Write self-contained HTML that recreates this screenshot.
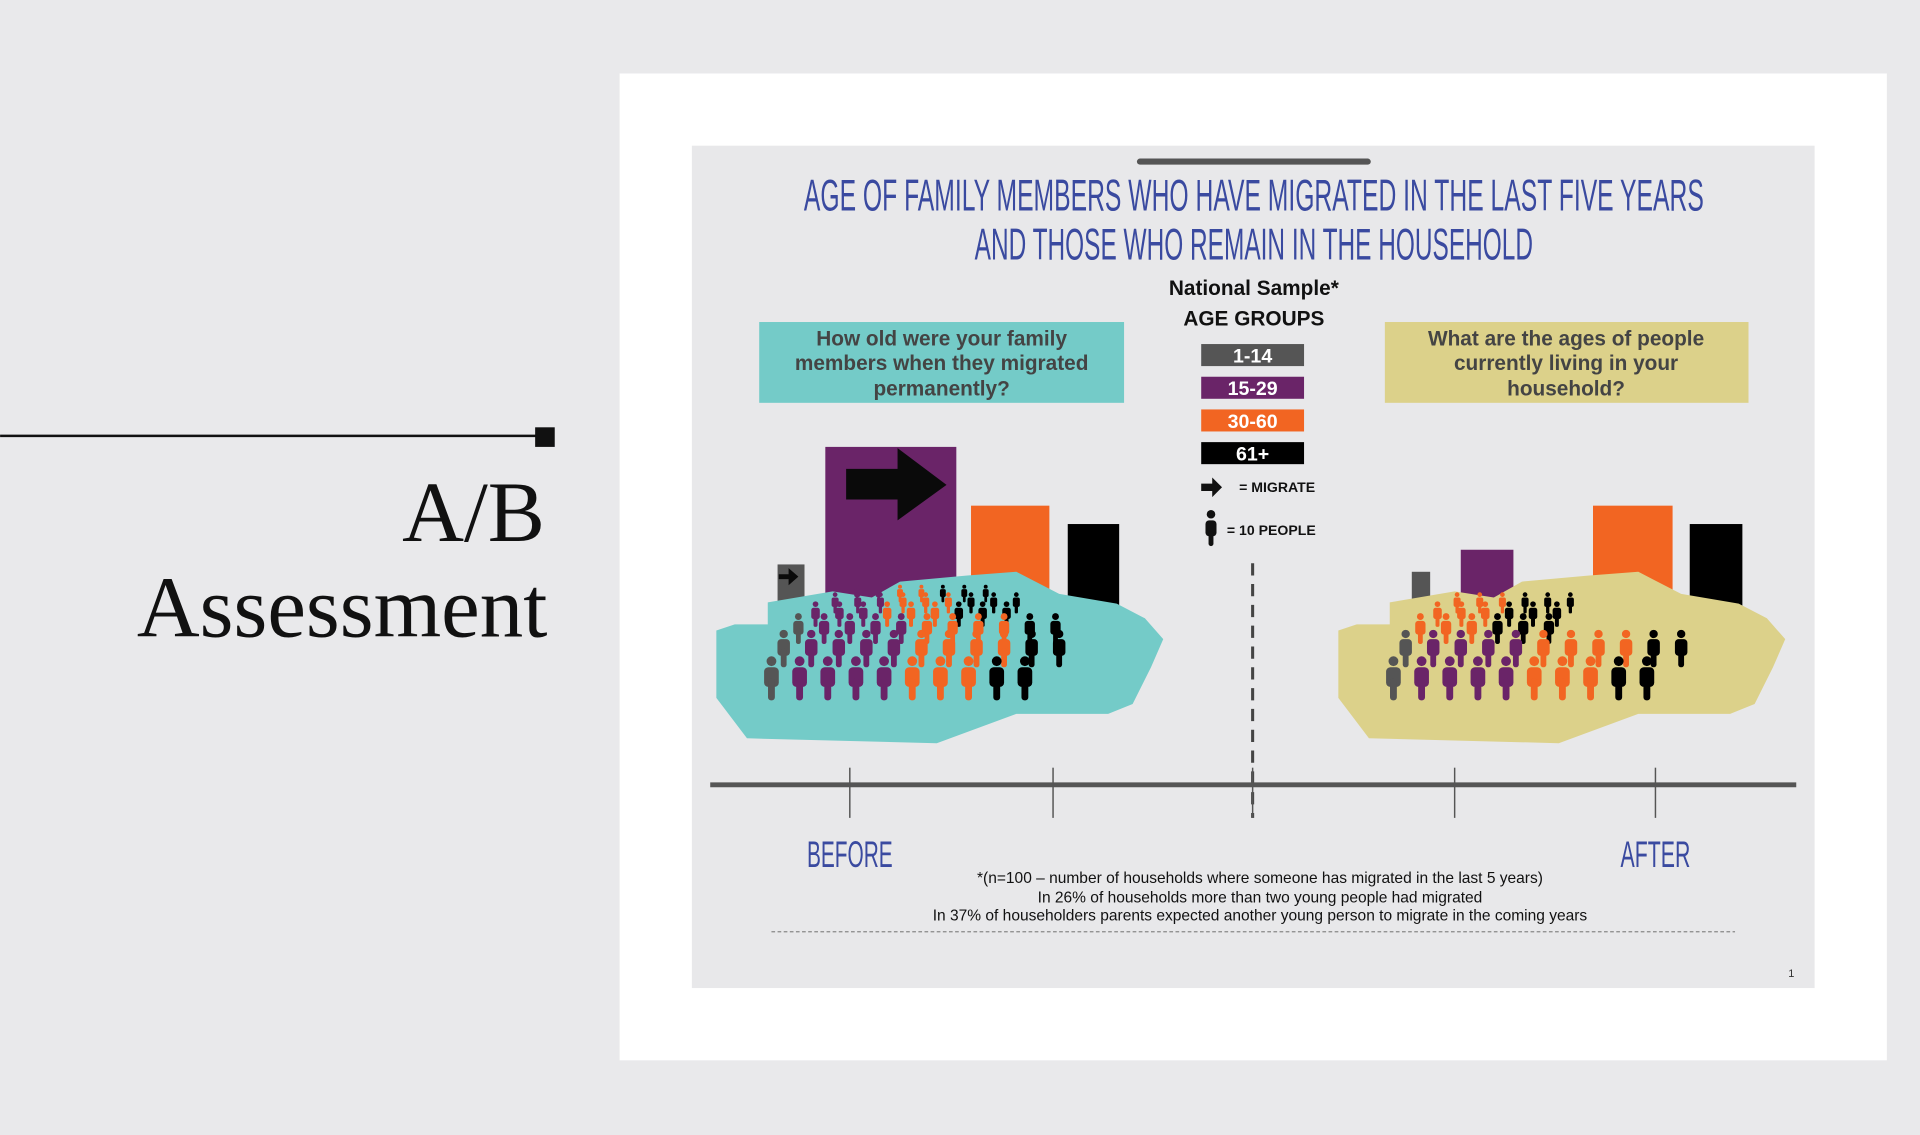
<!DOCTYPE html>
<html><head><meta charset="utf-8"><style>
html,body{margin:0;padding:0;background:#e9e9eb;}
svg{display:block;}
</style></head><body>
<svg width="1920" height="1135" viewBox="0 0 1568 927" xmlns="http://www.w3.org/2000/svg">
<rect x="0" y="0" width="1568" height="927" fill="#e9e9eb"/>
<line x1="0" y1="356" x2="445" y2="356" stroke="#111" stroke-width="2"/>
<rect x="437" y="349" width="16" height="16" fill="#111"/>
<text x="445" y="442" text-anchor="end" font-family="Liberation Serif, serif" font-size="70" fill="#111">A/B</text>
<text x="447" y="520" text-anchor="end" font-family="Liberation Serif, serif" font-size="71" fill="#111">Assessment</text>
<rect x="506" y="60" width="1035" height="806" fill="#fff"/>
<rect x="565" y="119" width="917" height="688" fill="#e8e8ea"/>
<line x1="931" y1="132" x2="1117" y2="132" stroke="#555" stroke-width="5" stroke-linecap="round"/>
<g font-family="'Liberation Sans Narrow','Liberation Sans',sans-serif" fill="#3a4aa0" text-anchor="middle" font-size="36">
<text x="1024" y="172" textLength="735" lengthAdjust="spacingAndGlyphs">AGE OF FAMILY MEMBERS WHO HAVE MIGRATED IN THE LAST FIVE YEARS</text>
<text x="1024" y="212" textLength="456" lengthAdjust="spacingAndGlyphs">AND THOSE WHO REMAIN IN THE HOUSEHOLD</text>
</g>
<text x="1024" y="241" text-anchor="middle" font-family="Liberation Sans, sans-serif" font-weight="bold" font-size="17" fill="#111">National Sample*</text>
<text x="1024" y="266" text-anchor="middle" font-family="Liberation Sans, sans-serif" font-weight="bold" font-size="17" fill="#111">AGE GROUPS</text>
<g id="legend"></g>
<g>
<path d="M981 395 h9 v-5 l8 8 l-8 8 v-5 h-9z" fill="#111"/>
<text x="1012" y="402" font-family="Liberation Sans, sans-serif" font-weight="bold" font-size="11.5" fill="#111">= MIGRATE</text>
</g>
<g>
<circle cx="989" cy="420" r="3.5" fill="#111"/>
<rect x="984.5" y="425" width="9" height="13" rx="3" fill="#111"/>
<rect x="987" y="434" width="4" height="12" rx="2" fill="#111"/>
<text x="1002" y="437" font-family="Liberation Sans, sans-serif" font-weight="bold" font-size="11.5" fill="#111">= 10 PEOPLE</text>
</g>
<rect x="620" y="263" width="298" height="66" fill="#74cbc8"/>
<g font-family="Liberation Sans, sans-serif" font-weight="bold" font-size="17" fill="#444" text-anchor="middle">
<text x="769" y="282">How old were your family</text><text x="769" y="302">members when they migrated</text><text x="769" y="323">permanently?</text></g>
<rect x="1131" y="263" width="297" height="66" fill="#dcd18a"/>
<g font-family="Liberation Sans, sans-serif" font-weight="bold" font-size="17" fill="#444" text-anchor="middle">
<text x="1279" y="282">What are the ages of people</text><text x="1279" y="302">currently living in your</text><text x="1279" y="323">household?</text></g>
<g id="before"></g>
<g id="after"></g>
<line x1="1023" y1="460" x2="1023" y2="668" stroke="#444" stroke-width="2.5" stroke-dasharray="10,7"/>
<line x1="580" y1="641" x2="1467" y2="641" stroke="#555" stroke-width="4"/>
<g stroke="#555" stroke-width="1.2">
<line x1="694" y1="627" x2="694" y2="668"/><line x1="860" y1="627" x2="860" y2="668"/><line x1="1023" y1="627" x2="1023" y2="668"/><line x1="1188" y1="627" x2="1188" y2="668"/><line x1="1352" y1="627" x2="1352" y2="668"/></g>
<text x="694" y="708" text-anchor="middle" font-family="'Liberation Sans Narrow','Liberation Sans',sans-serif" font-size="30" fill="#3a4aa0" textLength="70" lengthAdjust="spacingAndGlyphs">BEFORE</text>
<text x="1352" y="708" text-anchor="middle" font-family="'Liberation Sans Narrow','Liberation Sans',sans-serif" font-size="30" fill="#3a4aa0" textLength="57" lengthAdjust="spacingAndGlyphs">AFTER</text>
<g font-family="Liberation Sans, sans-serif" font-size="12.7" fill="#111" text-anchor="middle">
<text x="1029" y="721">*(n=100 – number of households where someone has migrated in the last 5 years)</text>
<text x="1029" y="737">In 26% of households more than two young people had migrated</text>
<text x="1029" y="752">In 37% of householders parents expected another young person to migrate in the coming years</text></g>
<line x1="630" y1="761" x2="1417" y2="761" stroke="#888" stroke-width="1" stroke-dasharray="3,2"/>
<text x="1463" y="798" text-anchor="middle" font-family="Liberation Sans, sans-serif" font-size="9" fill="#333">1</text>
</svg>
<script>
const groups = ['1-14','15-29','30-60','61+'];
const colors = ['#555555','#6a2468','#f26522','#000000'];
const beforeBars = [13,45,29,24];
const afterBars = [11,17,29,24];
const beforePeopleGray = [1,1,1,0,0,0];
const beforePeoplePurple = [4,4,4,3,3,2];
const beforePeopleOrange = [3,4,4,3,3,2];
const beforePeopleBlack = [2,2,2,3,3,3];
const afterPeopleGray = [1,1,0,0,0,0];
const afterPeoplePurple = [4,4,0,0,0,0];
const afterPeopleOrange = [3,4,3,3,3,0];
const afterPeopleBlack = [2,2,3,3,3,0];
const NS='http://www.w3.org/2000/svg';
function mk(tag,attrs,parent){const e=document.createElementNS(NS,tag);for(const k in attrs)e.setAttribute(k,attrs[k]);parent.appendChild(e);return e;}
const lg=document.getElementById('legend');
groups.forEach((g,i)=>{
  const y=281+i*26.7;
  const r=mk('rect',{x:981,y:y,width:84,height:18,fill:colors[i]},lg);
  
  
  const t=mk('text',{x:1023,y:y+15,'text-anchor':'middle','font-family':'Liberation Sans, sans-serif','font-weight':'bold','font-size':16,fill:'#fff'},lg);
  t.textContent=g;
  
  
});
const barBase=500, pxPerUnit=3;
function yScale(v){return barBase - v*pxPerUnit;}
const rowBase=[572,545,526,512,501,492];
const rowScale=[1,0.85,0.7,0.58,0.48,0.4];
const rowStart=[630,640,652,666,682,700];
const rowSpacing=[23,22.5,21,19.5,18.5,17.5];
function panel(id,dx,bars,barX,barW,blob,blobColor,people){
  const p=document.getElementById(id);
  bars.forEach((v,i)=>{
    const r=mk('rect',{x:barX[i]+dx,y:yScale(v),width:barW[i],height:barBase-yScale(v)+10,fill:colors[i]},p);
    
    
  });
  const b=mk('polygon',{points:blob.map(q=>(q[0]+dx)+','+q[1]).join(' '),fill:blobColor},p);
  
  
  for(let r=5;r>=0;r--){
    const s=rowScale[r], base=rowBase[r], sp=rowSpacing[r];
    let x=rowStart[r]+dx;
    people.forEach((arr,gi)=>{
      for(let k=0;k<arr[r];k++){
        const g=mk('g',{fill:colors[gi]},p);
        
        
        const h=36*s;
        mk('circle',{cx:x,cy:base-h+4*s,r:4*s},g);
        mk('rect',{x:x-6*s,y:base-h+9*s,width:12*s,height:16*s,rx:3.5*s},g);
        mk('rect',{x:x-2.8*s,y:base-h+18*s,width:5.6*s,height:18*s,rx:2.5*s},g);
        x+=sp;
      }
    });
  }
}
const blob=[[585,515],[600,510],[627,510],[627,492],[680,483],[712,488],[735,475],[790,470],[830,467],[865,485],[912,493],[935,505],[950,522],[940,545],[925,575],[905,583],[830,583],[765,607],[610,603],[585,570]];
panel('before',0,beforeBars,[635,674,793,872],[22,107,64,42],blob,'#74cbc8',[beforePeopleGray,beforePeoplePurple,beforePeopleOrange,beforePeopleBlack]);
const arrow=mk('path',{d:'M691 383 h42 v-17 l40 30 l-40 29 v-17 h-42z',fill:'#0a0a0a'},document.getElementById('before'));


const arrow2=mk('path',{d:'M636 469 h8 v-5 l8 7 l-8 7 v-5 h-8z',fill:'#0a0a0a'},document.getElementById('before'));


panel('after',508,afterBars,[645,685,793,872],[15,43,65,43],blob,'#dcd18a',[afterPeopleGray,afterPeoplePurple,afterPeopleOrange,afterPeopleBlack]);
</script>
</body></html>
